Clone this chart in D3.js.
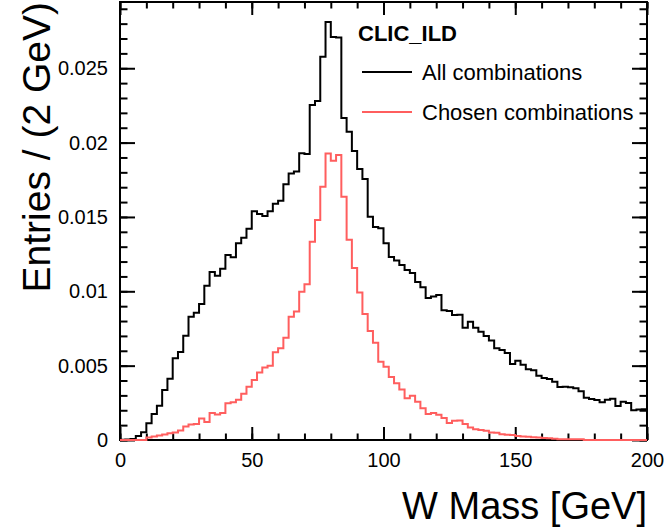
<!DOCTYPE html>
<html>
<head>
<meta charset="utf-8">
<script src="https://cdn.jsdelivr.net/npm/d3@7"></script>
<style>
body { margin: 0; background: #fff; }
text { font-family: "Liberation Sans", Arial, Helvetica, sans-serif; }
</style>
</head>
<body>
<div class="chart"></div>
<script>
var w = 665;
var h = 532;

// 100 bins of 2 GeV from 0 to 200
var binEdges = d3.range(0, 202, 2);

var allComb = [
    0.00001, 0.00003, 0.00007, 0.00027, 0.00052, 0.00112, 0.00175, 0.00231, 0.00336, 0.00412,
    0.00549, 0.00592, 0.00701, 0.00829, 0.00856, 0.00915, 0.01038, 0.01130, 0.01105, 0.01152,
    0.01244, 0.01229, 0.01323, 0.01360, 0.01421, 0.01538, 0.01520, 0.01506, 0.01538, 0.01589,
    0.01609, 0.01720, 0.01792, 0.01806, 0.01928, 0.01923, 0.02253, 0.02280, 0.02578, 0.02811,
    0.02710, 0.02707, 0.02165, 0.02073, 0.01944, 0.01822, 0.01755, 0.01502, 0.01432, 0.01424,
    0.01323, 0.01231, 0.01207, 0.01177, 0.01143, 0.01123, 0.01063, 0.01027, 0.00955, 0.00965,
    0.00975, 0.00872, 0.00868, 0.00841, 0.00843, 0.00755, 0.00796, 0.00755, 0.00728, 0.00699,
    0.00669, 0.00617, 0.00605, 0.00585, 0.00511, 0.00533, 0.00506, 0.00476, 0.00469, 0.00432,
    0.00417, 0.00410, 0.00392, 0.00356, 0.00358, 0.00354, 0.00348, 0.00328, 0.00284, 0.00276,
    0.00269, 0.00254, 0.00271, 0.00278, 0.00229, 0.00258, 0.00249, 0.00200, 0.00205, 0.00206
];

var chosenComb = [
    0, 0, 0, 0, 0, 0.00017, 0.00024, 0.00030, 0.00037, 0.00045,
    0.00050, 0.00064, 0.00091, 0.00104, 0.00108, 0.00145, 0.00121, 0.00182, 0.00171, 0.00182,
    0.00247, 0.00254, 0.00271, 0.00311, 0.00358, 0.00404, 0.00454, 0.00488, 0.00500, 0.00590,
    0.00617, 0.00688, 0.00829, 0.00864, 0.00997, 0.01047, 0.01334, 0.01480, 0.01703, 0.01927,
    0.01878, 0.01917, 0.01636, 0.01347, 0.01157, 0.00992, 0.00847, 0.00733, 0.00654, 0.00527,
    0.00493, 0.00424, 0.00381, 0.00340, 0.00280, 0.00298, 0.00258, 0.00213, 0.00175, 0.00182,
    0.00170, 0.00148, 0.00114, 0.00130, 0.00131, 0.00108, 0.00084, 0.00073, 0.00067, 0.00062,
    0.00050, 0.00049, 0.00039, 0.00035, 0.00034, 0.00027, 0.00024, 0.00022, 0.00018, 0.00017,
    0.00013, 0.00012, 0.00009, 0.00005, 0.00005, 0.00005, 0.00005, 0.00005, 0, 0,
    0, 0, 0, 0, 0, 0, 0, 0, 0, 0
];

var xTicks = [0, 50, 100, 150, 200];
var yTicks = [0, 0.005, 0.01, 0.015, 0.02, 0.025];
var seriesNames = ["All combinations", "Chosen combinations"];
var colors = ["#000000", "#ff5e5e"];

var padL = 120, padR = 647, padT = 2, padB = 440;

var xScale = d3.scaleLinear()
    .domain([0, 200])
    .range([padL, padR]);

var yScale = d3.scaleLinear()
    .domain([0, 0.029455])
    .range([padB, padT]);

var svg = d3.select(".chart")
    .append("svg")
    .attr("width", w)
    .attr("height", h);

// minor ticks
var xMinor = d3.range(0, 201, 10);
var yMinor = d3.range(0, 0.0295, 0.001);

function styleAxis(g) {
    g.select(".domain").remove();
    g.selectAll("line").attr("stroke", "#000").attr("stroke-width", 2);
    g.selectAll("text").attr("fill", "#000").style("font-size", "20px");
}

svg.append("g")
    .attr("transform", "translate(0," + padB + ")")
    .call(d3.axisBottom(xScale).tickValues(xMinor).tickSize(-6.5).tickFormat(""))
    .call(styleAxis);
svg.append("g")
    .attr("transform", "translate(0," + padT + ")")
    .call(d3.axisTop(xScale).tickValues(xMinor).tickSize(-6.5).tickFormat(""))
    .call(styleAxis);
svg.append("g")
    .attr("transform", "translate(" + padL + ",0)")
    .call(d3.axisLeft(yScale).tickValues(yMinor).tickSize(-7.5).tickFormat(""))
    .call(styleAxis);
svg.append("g")
    .attr("transform", "translate(" + padR + ",0)")
    .call(d3.axisRight(yScale).tickValues(yMinor).tickSize(-7.5).tickFormat(""))
    .call(styleAxis);

// major ticks with labels
svg.append("g")
    .attr("transform", "translate(0," + padB + ")")
    .call(d3.axisBottom(xScale).tickValues(xTicks).tickSizeInner(-13).tickSizeOuter(0)
        .tickPadding(13).tickFormat(d3.format("d")))
    .call(styleAxis);
svg.append("g")
    .attr("transform", "translate(0," + padT + ")")
    .call(d3.axisTop(xScale).tickValues(xTicks).tickSize(-13).tickFormat(""))
    .call(styleAxis);
svg.append("g")
    .attr("transform", "translate(" + padL + ",0)")
    .call(d3.axisLeft(yScale).tickValues(yTicks).tickSizeInner(-15).tickSizeOuter(0)
        .tickPadding(12).tickFormat(d3.format("~g")))
    .call(styleAxis);
svg.append("g")
    .attr("transform", "translate(" + padR + ",0)")
    .call(d3.axisRight(yScale).tickValues(yTicks).tickSize(-15).tickFormat(""))
    .call(styleAxis);

// frame
svg.append("rect")
    .attr("x", padL)
    .attr("y", padT)
    .attr("width", padR - padL)
    .attr("height", padB - padT)
    .attr("fill", "none")
    .attr("stroke", "#000")
    .attr("stroke-width", 2);

// histograms
var line = d3.line()
    .x(function(d) { return xScale(d[0]); })
    .y(function(d) { return yScale(d[1]); })
    .curve(d3.curveStepAfter);

[allComb, chosenComb].forEach(function(series, k) {
    var pts = series.map(function(v, i) { return [binEdges[i], v]; });
    pts.push([binEdges[series.length], series[series.length - 1]]);
    svg.append("path")
        .attr("d", line(pts))
        .attr("fill", "none")
        .attr("stroke", colors[k])
        .attr("stroke-width", 2);
});

// axis titles
svg.append("text")
    .attr("x", padR)
    .attr("y", 519)
    .attr("text-anchor", "end")
    .style("font-size", "38px")
    .text("W Mass [GeV]");

svg.append("text")
    .attr("transform", "translate(50,2) rotate(-90)")
    .attr("text-anchor", "end")
    .style("font-size", "39px")
    .text("Entries / (2 GeV)");

// legend
svg.append("text")
    .attr("x", 358)
    .attr("y", 41)
    .style("font-size", "22px")
    .style("font-weight", "bold")
    .text("CLIC_ILD");

seriesNames.forEach(function(name, k) {
    var ly = 72 + k * 40;
    svg.append("line")
        .attr("x1", 362).attr("x2", 412)
        .attr("y1", ly).attr("y2", ly)
        .attr("stroke", colors[k])
        .attr("stroke-width", 2);
    svg.append("text")
        .attr("x", 422)
        .attr("y", ly + 8)
        .style("font-size", "22px")
        .text(name);
});
</script>
</body>
</html>
